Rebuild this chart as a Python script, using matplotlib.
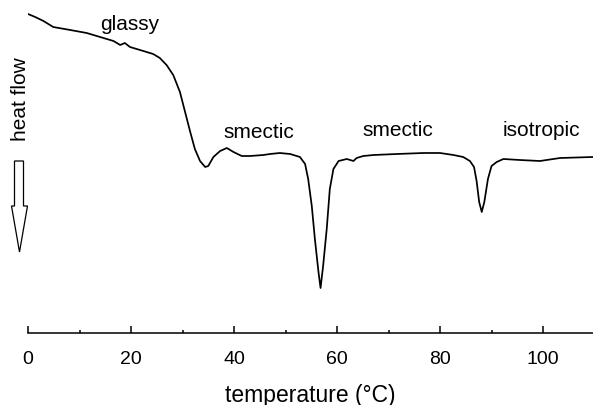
import matplotlib
matplotlib.use('Agg')
import matplotlib.pyplot as plt
from matplotlib.patches import Polygon

plt.rcParams['font.family'] = ['Liberation Sans', 'DejaVu Sans']

# DSC trace (temperature in degC, heat flow in arbitrary units)
temperature = [0.0, 1.4, 3.0, 4.9, 8.2, 11.4, 14.0, 16.6, 17.9, 18.8, 19.8, 22.4,
               24.3, 25.6, 26.9, 28.2, 29.5, 30.5, 31.5, 32.4, 33.4, 34.4, 35.0, 36.0,
               37.3, 38.6, 39.9, 41.5, 43.1, 45.7, 47.0, 48.9, 50.9, 52.8, 53.8, 54.4,
               55.1, 55.7, 56.4, 56.8, 57.3, 58.0, 58.6, 59.3, 60.3, 61.9, 63.2, 63.8,
               65.1, 67.1, 71.6, 76.8, 80.0, 82.6, 84.5, 85.8, 86.6, 87.1, 87.6, 88.1,
               88.6, 89.3, 90.0, 91.0, 92.3, 95.5, 99.4, 103.3, 109.7]
heat_flow = [3.19, 3.16, 3.12, 3.06, 3.03, 3.00, 2.96, 2.92, 2.88, 2.90, 2.86, 2.82,
             2.79, 2.75, 2.68, 2.58, 2.41, 2.21, 2.01, 1.84, 1.72, 1.66, 1.67, 1.76,
             1.82, 1.85, 1.81, 1.77, 1.77, 1.78, 1.79, 1.80, 1.79, 1.76, 1.69, 1.54,
             1.27, 0.94, 0.61, 0.45, 0.67, 1.04, 1.44, 1.64, 1.72, 1.74, 1.72, 1.75,
             1.77, 1.78, 1.79, 1.80, 1.80, 1.78, 1.76, 1.72, 1.66, 1.52, 1.31, 1.21,
             1.31, 1.54, 1.67, 1.71, 1.74, 1.73, 1.72, 1.75, 1.76]

phase_names = ['glassy', 'smectic', 'smectic', 'isotropic']
phase_x = [19.8, 44.9, 71.8, 99.6]
phase_y = [3.09, 2.02, 2.03, 2.03]

fig = plt.figure(figsize=(5.93, 4.06), dpi=100)
ax = fig.add_axes([28 / 593, 72 / 406, 1 - 28 / 593, 1 - 72 / 406])

ax.plot(temperature, heat_flow, color='black', lw=1.25, solid_joinstyle='round')

for name, x, y in zip(phase_names, phase_x, phase_y):
    ax.text(x, y, name, fontsize=15, ha='center', va='center')

ax.set_xlim(0, 109.7)
ax.set_ylim(0, 3.34)
ax.set_xticks([0, 20, 40, 60, 80, 100])
ax.set_xticks([10, 30, 50, 70, 90], minor=True)
ax.set_yticks([])
for side in ['top', 'right', 'left']:
    ax.spines[side].set_visible(False)
ax.spines['bottom'].set_linewidth(1.1)
ax.tick_params(axis='x', which='major', direction='in', length=5, width=1.1,
               labelsize=14, pad=12)
ax.tick_params(axis='x', which='minor', direction='in', length=2.5, width=1.1)
ax.set_xlabel('temperature (°C)', fontsize=16.5, labelpad=12)

# y axis label: rotated text with a hollow downward arrow
fig.text(20 / 593, 1 - 99 / 406, 'heat flow', rotation=90, fontsize=15,
         ha='center', va='center')
arrow_px = [(14.5, 162), (23.5, 162), (23.5, 207), (27.5, 207), (19.5, 253),
            (11.5, 207), (14.5, 207)]
arrow = Polygon([(x / 100, (406 - y) / 100) for x, y in arrow_px], closed=True,
                facecolor='white', edgecolor='black', lw=0.9,
                transform=fig.dpi_scale_trans)
fig.patches.append(arrow)

fig.savefig('out.png', dpi=100)
